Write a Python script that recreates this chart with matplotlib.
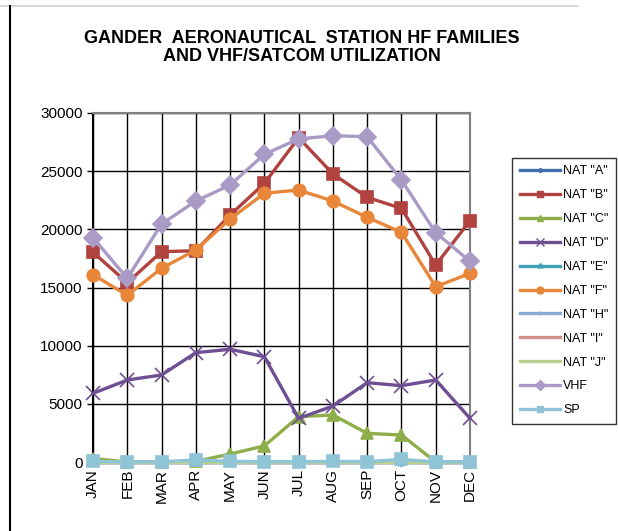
import matplotlib
matplotlib.use("Agg")
import matplotlib.pyplot as plt
from matplotlib.lines import Line2D

plt.rcParams['font.family'] = ['Liberation Sans', 'DejaVu Sans']

months = ["JAN", "FEB", "MAR", "APR", "MAY", "JUN",
          "JUL", "AUG", "SEP", "OCT", "NOV", "DEC"]

nat_a = [0, 0, 0, 0, 0, 0, 0, 0, 0, 0, 0, 0]
nat_b = [18030, 15410, 18080, 18160, 21230, 23950, 27880, 24760, 22750, 21800, 16930, 20740]
nat_c = [300, 0, 0, 50, 690, 1380, 3900, 4040, 2460, 2320, 0, 0]
nat_d = [5900, 7050, 7480, 9400, 9690, 9050, 3750, 4810, 6820, 6560, 7050, 3750]
nat_e = [0, 0, 0, 0, 0, 0, 0, 0, 0, 0, 0, 0]
nat_f = [16100, 14330, 16650, 18220, 20890, 23100, 23380, 22430, 21030, 19740, 15070, 16220]
nat_h = [0, 0, 0, 0, 0, 0, 0, 0, 0, 0, 0, 0]
nat_i = [0, 0, 0, 0, 0, 0, 0, 0, 0, 0, 0, 0]
nat_j = [0, 0, 0, 0, 0, 0, 0, 0, 0, 0, 0, 0]
vhf = [19280, 15790, 20460, 22430, 23810, 26450, 27770, 28050, 27960, 24240, 19710, 17250]
sp = [50, 10, 20, 180, 50, 30, 30, 50, 40, 220, 20, 20]

series = [
    ('NAT "A"', nat_a, '#3F6FAF', 'D', 4),
    ('NAT "B"', nat_b, '#B04240', 's', 9),
    ('NAT "C"', nat_c, '#8DAE4A', '^', 9),
    ('NAT "D"', nat_d, '#6E4F93', 'x', 10),
    ('NAT "E"', nat_e, '#3FA0B8', '*', 7),
    ('NAT "F"', nat_f, '#E8863A', 'o', 9),
    ('NAT "H"', nat_h, '#89A8D2', '|', 6),
    ('NAT "I"', nat_i, '#D68E8C', None, 0),
    ('NAT "J"', nat_j, '#B9D18F', None, 0),
    ('VHF', vhf, '#A99BC6', 'D', 9),
    ('SP', sp, '#8FC3D6', 's', 9),
]

fig = plt.figure(figsize=(6.18, 5.31), dpi=100)
ax = fig.add_axes([93 / 618, 69 / 531, 377 / 618, 349 / 531])

x = list(range(len(months)))
handles = []
for name, vals, col, mk, ms in series:
    ax.plot(x, vals, color=col, lw=2.4, marker=mk, markersize=ms,
            markeredgewidth=1.2, markeredgecolor=col, markerfacecolor=col,
            clip_on=False, zorder=3)
    handles.append(Line2D([], [], color=col, lw=2.4, marker=mk,
                          markersize=ms * 0.55, markeredgecolor=col,
                          markerfacecolor=col, label=name))

ax.set_xlim(0, 11)
ax.set_ylim(0, 30000)
ax.set_yticks(range(0, 30001, 5000))
ax.set_xticks(x)
ax.set_xticklabels(months, rotation=90, fontsize=11)
ax.tick_params(axis='y', labelsize=11, length=4, width=1, direction='out')
ax.tick_params(axis='x', length=0, pad=5)
ax.grid(True, color='black', lw=1)
ax.set_axisbelow(True)
for s in ['top', 'right']:
    ax.spines[s].set_color('#808080')
    ax.spines[s].set_linewidth(1.5)
ax.spines['left'].set_linewidth(1.5)
ax.spines['bottom'].set_linewidth(1)

fig.text(0.489, 0.911, 'GANDER  AERONAUTICAL  STATION HF FAMILIES\nAND VHF/SATCOM UTILIZATION',
         ha='center', va='center', fontsize=13, fontweight='bold', linespacing=1.1)

leg = fig.legend(handles=handles, loc='upper left',
                 bbox_to_anchor=(512 / 618, 1 - 158 / 531),
                 frameon=True, fontsize=9, handlelength=3.2,
                 labelspacing=0.95, borderpad=0.6, handletextpad=0.3,
                 fancybox=False, borderaxespad=0)
leg.get_frame().set_edgecolor('black')
leg.get_frame().set_linewidth(1)

# page border lines
fig.add_artist(Line2D([0, 578 / 618], [1 - 6 / 531, 1 - 6 / 531],
                      color='#d0d0d0', lw=1.2, transform=fig.transFigure))
fig.add_artist(Line2D([10 / 618, 10 / 618], [0, 1 - 6 / 531],
                      color='black', lw=1.5, transform=fig.transFigure))

fig.savefig('out.png', dpi=100)
